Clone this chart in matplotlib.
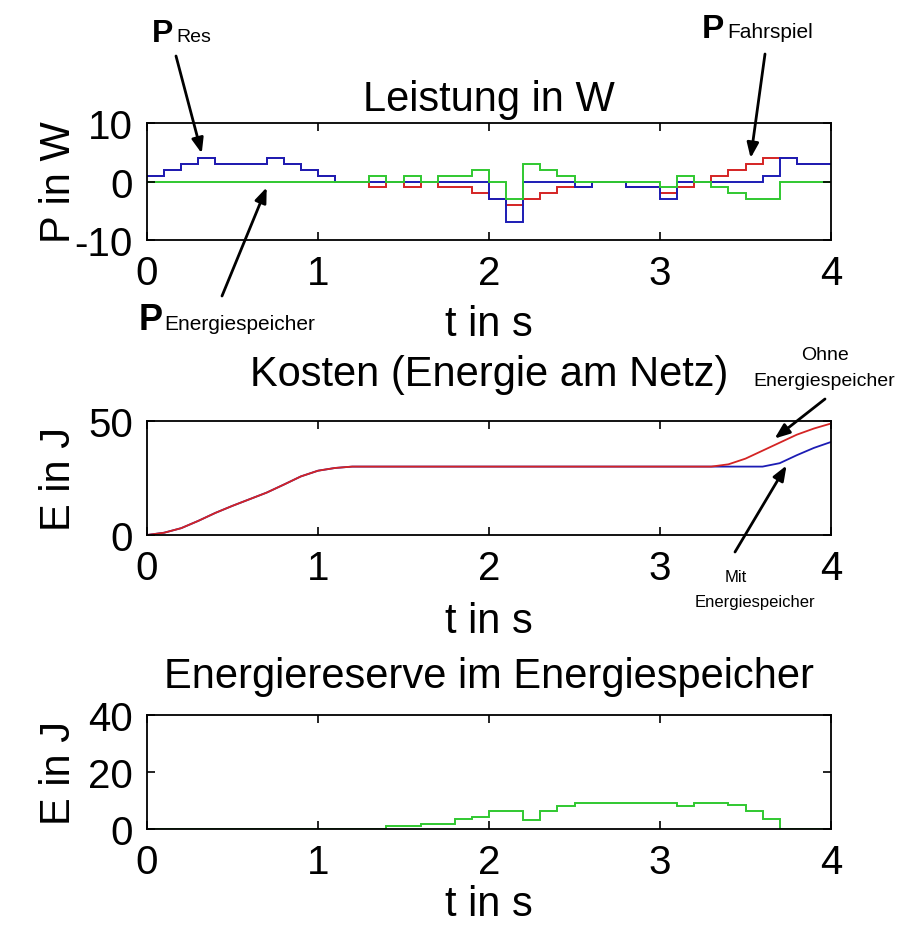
import numpy as np
import matplotlib
matplotlib.use("Agg")
import matplotlib.pyplot as plt

plt.rcParams['font.family'] = ['Liberation Sans', 'DejaVu Sans']
plt.rcParams['axes.unicode_minus'] = False

# ---- data (step values per 0.1 s interval, 0..4 s) ----
t_edges = np.round(np.arange(0, 4.01, 0.1), 2)

p_fahrspiel = [1, 2, 3, 4, 3, 3, 3, 4, 3, 2,
               1, 0, 0, -1, 0, -1, 0, -1, -1, -2,
               -3, -4, -3, -2, -1, -1, 0, 0, -1, -1,
               -2, -1, 0, 1, 2, 3, 4, 4, 3, 3]
p_speicher = [0, 0, 0, 0, 0, 0, 0, 0, 0, 0,
              0, 0, 0, 1, 0, 1, 0, 1, 1, 2,
              0, -3, 3, 2, 1, 0, 0, 0, 0, 0,
              -1, 1, 0, -1, -2, -3, -3, 0, 0, 0]
p_res = [1, 2, 3, 4, 3, 3, 3, 4, 3, 2,
         1, 0, 0, 0, 0, 0, 0, 0, 0, 0,
         -3, -7, 0, 0, 0, -1, 0, 0, -1, -1,
         -3, 0, 0, 0, 0, 0, 1, 4, 3, 3]

t_cost = np.round(np.arange(0, 4.01, 0.1), 2)
e_ohne = [0, 1.0, 3.0, 6.2, 9.7, 12.8, 15.7, 18.6, 22.1, 25.7,
          28.2, 29.4, 30, 30, 30, 30, 30, 30, 30, 30,
          30, 30, 30, 30, 30, 30, 30, 30, 30, 30,
          30, 30, 30, 30, 31.0, 33.5, 37.0, 40.5, 44.0, 46.7, 48.9]
e_mit = [0, 1.0, 3.0, 6.2, 9.7, 12.8, 15.7, 18.6, 22.1, 25.7,
         28.2, 29.4, 30, 30, 30, 30, 30, 30, 30, 30,
         30, 30, 30, 30, 30, 30, 30, 30, 30, 30,
         30, 30, 30, 30, 30, 30, 30, 31.5, 35.0, 38.2, 40.8]

e_reserve = [0, 0, 0, 0, 0, 0, 0, 0, 0, 0,
             0, 0, 0, 0, 1.2, 1.2, 1.7, 1.7, 3.5, 4.3,
             6.4, 6.4, 3.3, 6.2, 8.2, 9.1, 9.1, 9.1, 9.1, 9.1,
             9.1, 8.2, 9.1, 9.1, 8.4, 6.2, 3.5, 0, 0, 0]

BLUE = '#1c1cb4'
RED = '#d42424'
GREEN = '#30c830'
FS = 29
FT = 30

W, H = 919, 929
fig = plt.figure(figsize=(W / 100, H / 100), dpi=100)

def px_axes(l, t, r, b):
    return fig.add_axes([l / W, 1 - b / H, (r - l) / W, (b - t) / H])

ax1 = px_axes(147, 124, 831, 241)
ax2 = px_axes(147, 422, 831, 536)
ax3 = px_axes(147, 716, 831, 830)

for ax in (ax1, ax2, ax3):
    ax.set_xlim(0, 4)
    ax.set_xticks([0, 1, 2, 3, 4])
    ax.tick_params(direction='in', top=True, right=True, length=6, width=1.2,
                   labelsize=FS, pad=10)
    for s in ax.spines.values():
        s.set_linewidth(1.3)

# Top plot
ax1.stairs(p_fahrspiel, t_edges, baseline=None, color=RED, lw=1.4)
ax1.stairs(p_res, t_edges, baseline=None, color=BLUE, lw=1.4)
ax1.stairs(p_speicher, t_edges, baseline=None, color=GREEN, lw=1.4)
ax1.set_ylim(-10, 10)
ax1.set_yticks([-10, 0, 10])
ax1.set_title('Leistung in W', fontsize=FT, pad=9)
ax1.set_xlabel('t in s', fontsize=FT, labelpad=9)
ax1.set_ylabel('P in W', fontsize=FT)

# Middle plot
ax2.plot(t_cost, e_mit, color=BLUE, lw=1.3)
ax2.plot(t_cost, e_ohne, color=RED, lw=1.3)
ax2.set_ylim(0, 50)
ax2.set_yticks([0, 50])
ax2.set_title('Kosten (Energie am Netz)', fontsize=FT, pad=26)
ax2.set_xlabel('t in s', fontsize=FT, labelpad=10)
ax2.set_ylabel('E in J', fontsize=FT)

# Bottom plot
ax3.stairs(e_reserve, t_edges, baseline=None, color=GREEN, lw=1.4)
ax3.set_ylim(0, 40)
ax3.set_yticks([0, 20, 40])
ax3.set_title('Energiereserve im Energiespeicher', fontsize=FT, pad=20)
ax3.set_xlabel('t in s', fontsize=FT, labelpad=2)
ax3.set_ylabel('E in J', fontsize=FT)

for ax in (ax1, ax2, ax3):
    ax.yaxis.set_label_coords(-0.10, 0.5)

def ftext(x, y, s, **kw):
    fig.text(x / W, 1 - y / H, s, **kw)

arrow = dict(arrowstyle='-|>,head_length=0.9,head_width=0.35', color='black', lw=2,
             shrinkA=0, shrinkB=0)

# Annotations top
ftext(152, 42, 'P', fontsize=23, fontweight='bold', va='baseline', ha='left')
ftext(176, 42, 'Res', fontsize=14, va='baseline', ha='left')
ax1.annotate('', xy=(0.32, 4.8), xycoords='data',
             xytext=(176 / W, 1 - 57 / H), textcoords='figure fraction',
             arrowprops=arrow)

ftext(702, 38, 'P', fontsize=24, fontweight='bold', va='baseline', ha='left')
ftext(727, 38, 'Fahrspiel', fontsize=15, va='baseline', ha='left')
ax1.annotate('', xy=(3.53, 4.0), xycoords='data',
             xytext=(765 / W, 1 - 55 / H), textcoords='figure fraction',
             arrowprops=arrow)

ftext(139, 330, 'P', fontsize=26, fontweight='bold', va='baseline', ha='left')
ftext(164, 330, 'Energiespeicher', fontsize=15, va='baseline', ha='left')
ax1.annotate('', xy=(0.70, -1.0), xycoords='data',
             xytext=(222 / W, 1 - 297 / H), textcoords='figure fraction',
             arrowprops=arrow)

# Annotations middle
ftext(825, 356, 'Ohne', fontsize=14, va='center', ha='center')
ftext(824, 381, 'Energiespeicher', fontsize=14, va='center', ha='center')
ax2.annotate('', xy=(3.67, 42.3), xycoords='data',
             xytext=(825 / W, 1 - 400 / H), textcoords='figure fraction',
             arrowprops=arrow)

ftext(736, 578, 'Mit', fontsize=12, va='center', ha='center')
ftext(755, 603, 'Energiespeicher', fontsize=12, va='center', ha='center')
ax2.annotate('', xy=(3.74, 30.5), xycoords='data',
             xytext=(735 / W, 1 - 553 / H), textcoords='figure fraction',
             arrowprops=arrow)

fig.savefig('out.png', dpi=100)
